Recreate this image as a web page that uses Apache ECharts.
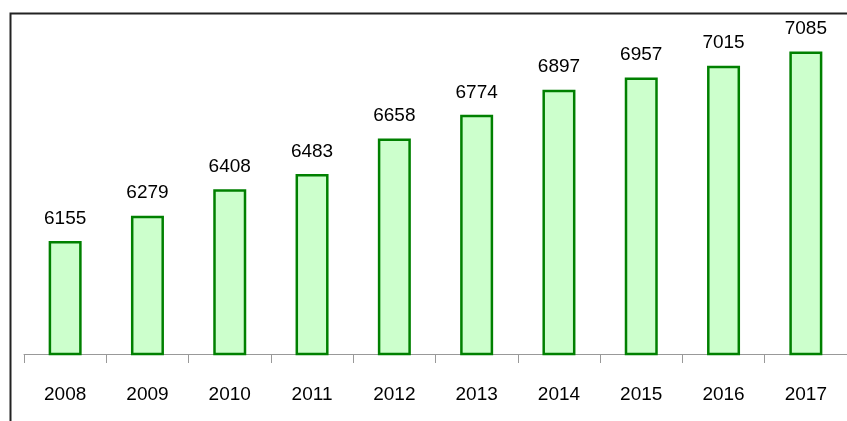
<!DOCTYPE html>
<html>
<head>
<meta charset="utf-8">
<script src="https://cdn.jsdelivr.net/npm/echarts@6/dist/echarts.min.js"></script>
<style>
  html, body { margin: 0; padding: 0; background: #fff; }
  #chart { width: 847px; height: 421px; }
</style>
</head>
<body>
<div id="chart"></div>
<script>
const years = ['2008', '2009', '2010', '2011', '2012', '2013', '2014', '2015', '2016', '2017'];
const values = [6155, 6279, 6408, 6483, 6658, 6774, 6897, 6957, 7015, 7085];

const chart = echarts.init(document.getElementById('chart'));
const font = 'Liberation Sans, Arial, sans-serif';

chart.setOption({
  animation: false,
  graphic: [{
    type: 'rect',
    left: 8, top: 11,
    shape: { width: 900, height: 500 },
    style: { fill: 'none', stroke: '#222', lineWidth: 2 },
    silent: true
  }],
  grid: { left: 24, right: 0, top: 28, bottom: 67 },
  xAxis: {
    type: 'category',
    data: years,
    axisLine: { lineStyle: { color: '#999', width: 1 } },
    axisTick: { show: true, length: 9, lineStyle: { color: '#999' } },
    axisLabel: { color: '#000', fontSize: 19, fontFamily: font, margin: 31 }
  },
  yAxis: {
    type: 'value',
    min: 5600,
    max: 7200,
    show: false,
    splitLine: { show: false }
  },
  series: [{
    type: 'bar',
    data: values,
    barWidth: 33,
    itemStyle: { color: '#ccffcc', borderColor: '#008000', borderWidth: 2.5 },
    label: {
      show: true,
      position: 'top',
      distance: 13,
      color: '#000',
      fontSize: 19,
      fontFamily: font
    }
  }]
});
</script>
</body>
</html>
